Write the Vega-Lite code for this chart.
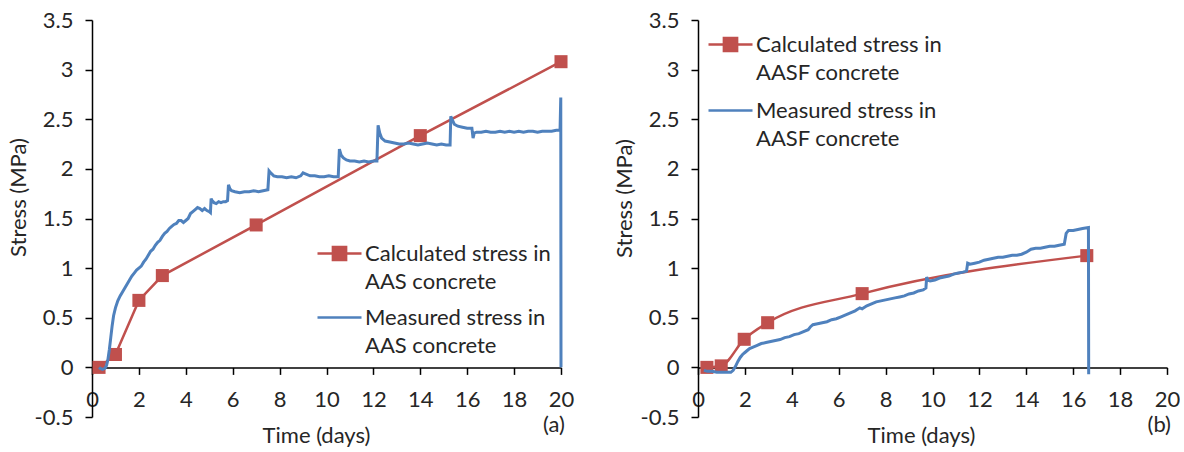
{
  "$schema": "https://vega.github.io/schema/vega-lite/v6.json",
  "background": "white",
  "padding": {"left": 7, "top": 9, "right": 0, "bottom": 0},
  "config": {
    "font": "Lato",
    "view": {"stroke": null},
    "axis": {
      "grid": false,
      "ticks": true,
      "domainColor": "#000000",
      "tickColor": "#000000",
      "tickOpacity": 1,
      "domainWidth": 1.5,
      "tickWidth": 1.5,
      "tickSize": 7,
      "labelFontSize": 22,
      "labelColor": "#262626",
      "titleFontSize": 22,
      "titleFontWeight": "normal",
      "titleColor": "#262626",
      "labelFlush": false,
      "labelOverlap": false,
      "labelBound": false
    },
    "legend": {
      "labelFontSize": 22,
      "labelColor": "#262626",
      "labelLimit": 500
    }
  },
  "datasets": {
    "aas_calc": [
      {"t": 0.3, "v": 0.0}, {"t": 1.0, "v": 0.13}, {"t": 2.0, "v": 0.675}, {"t": 3.0, "v": 0.925},
      {"t": 7.0, "v": 1.435}, {"t": 14.0, "v": 2.335}, {"t": 20.0, "v": 3.08}
    ],
    "aas_meas": [
      {"t": 0.3, "v": 0.0}, {"t": 0.35, "v": -0.01}, {"t": 0.45, "v": -0.02}, {"t": 0.55, "v": -0.01},
      {"t": 0.62, "v": 0.02}, {"t": 0.68, "v": 0.08}, {"t": 0.74, "v": 0.18}, {"t": 0.8, "v": 0.3},
      {"t": 0.86, "v": 0.42}, {"t": 0.92, "v": 0.52}, {"t": 1.0, "v": 0.6}, {"t": 1.1, "v": 0.67},
      {"t": 1.2, "v": 0.72}, {"t": 1.3, "v": 0.76}, {"t": 1.4, "v": 0.8}, {"t": 1.5, "v": 0.84},
      {"t": 1.6, "v": 0.88}, {"t": 1.7, "v": 0.92}, {"t": 1.8, "v": 0.95}, {"t": 1.9, "v": 0.98},
      {"t": 2.0, "v": 1.0}, {"t": 2.1, "v": 1.02}, {"t": 2.2, "v": 1.06}, {"t": 2.3, "v": 1.09},
      {"t": 2.4, "v": 1.13}, {"t": 2.5, "v": 1.17}, {"t": 2.6, "v": 1.19}, {"t": 2.7, "v": 1.23},
      {"t": 2.8, "v": 1.26}, {"t": 2.9, "v": 1.28}, {"t": 3.0, "v": 1.32}, {"t": 3.1, "v": 1.35},
      {"t": 3.2, "v": 1.37}, {"t": 3.3, "v": 1.4}, {"t": 3.4, "v": 1.42}, {"t": 3.5, "v": 1.44},
      {"t": 3.6, "v": 1.45}, {"t": 3.7, "v": 1.48}, {"t": 3.8, "v": 1.48}, {"t": 3.9, "v": 1.46},
      {"t": 4.0, "v": 1.48}, {"t": 4.1, "v": 1.5}, {"t": 4.2, "v": 1.55}, {"t": 4.3, "v": 1.57},
      {"t": 4.4, "v": 1.59}, {"t": 4.5, "v": 1.61}, {"t": 4.6, "v": 1.6}, {"t": 4.7, "v": 1.58},
      {"t": 4.8, "v": 1.6}, {"t": 4.9, "v": 1.58}, {"t": 5.0, "v": 1.57}, {"t": 5.05, "v": 1.56},
      {"t": 5.08, "v": 1.7}, {"t": 5.12, "v": 1.68}, {"t": 5.2, "v": 1.66}, {"t": 5.3, "v": 1.65},
      {"t": 5.4, "v": 1.67}, {"t": 5.5, "v": 1.66}, {"t": 5.6, "v": 1.67}, {"t": 5.7, "v": 1.67},
      {"t": 5.78, "v": 1.68}, {"t": 5.82, "v": 1.84}, {"t": 5.88, "v": 1.8}, {"t": 5.95, "v": 1.78},
      {"t": 6.1, "v": 1.77}, {"t": 6.3, "v": 1.76}, {"t": 6.5, "v": 1.77}, {"t": 6.7, "v": 1.77},
      {"t": 6.9, "v": 1.78}, {"t": 7.1, "v": 1.77}, {"t": 7.3, "v": 1.78}, {"t": 7.5, "v": 1.79},
      {"t": 7.55, "v": 1.98}, {"t": 7.62, "v": 1.96}, {"t": 7.75, "v": 1.93}, {"t": 7.9, "v": 1.92},
      {"t": 8.1, "v": 1.92}, {"t": 8.3, "v": 1.91}, {"t": 8.5, "v": 1.92}, {"t": 8.7, "v": 1.91},
      {"t": 8.9, "v": 1.93}, {"t": 9.0, "v": 1.96}, {"t": 9.1, "v": 1.95}, {"t": 9.3, "v": 1.93},
      {"t": 9.5, "v": 1.93}, {"t": 9.7, "v": 1.92}, {"t": 9.9, "v": 1.92}, {"t": 10.1, "v": 1.93},
      {"t": 10.3, "v": 1.92}, {"t": 10.5, "v": 1.92}, {"t": 10.55, "v": 2.2}, {"t": 10.62, "v": 2.14},
      {"t": 10.72, "v": 2.11}, {"t": 10.85, "v": 2.09}, {"t": 11.0, "v": 2.08}, {"t": 11.2, "v": 2.08},
      {"t": 11.4, "v": 2.07}, {"t": 11.6, "v": 2.08}, {"t": 11.8, "v": 2.07}, {"t": 12.0, "v": 2.08},
      {"t": 12.15, "v": 2.08}, {"t": 12.2, "v": 2.44}, {"t": 12.27, "v": 2.36}, {"t": 12.35, "v": 2.31},
      {"t": 12.5, "v": 2.28}, {"t": 12.7, "v": 2.27}, {"t": 12.9, "v": 2.26}, {"t": 13.1, "v": 2.25},
      {"t": 13.3, "v": 2.25}, {"t": 13.5, "v": 2.26}, {"t": 13.7, "v": 2.25}, {"t": 13.9, "v": 2.24},
      {"t": 14.1, "v": 2.25}, {"t": 14.3, "v": 2.26}, {"t": 14.5, "v": 2.25}, {"t": 14.7, "v": 2.24},
      {"t": 14.9, "v": 2.25}, {"t": 15.1, "v": 2.24}, {"t": 15.27, "v": 2.24}, {"t": 15.3, "v": 2.53},
      {"t": 15.37, "v": 2.49}, {"t": 15.45, "v": 2.45}, {"t": 15.6, "v": 2.43}, {"t": 15.8, "v": 2.42},
      {"t": 16.0, "v": 2.41}, {"t": 16.2, "v": 2.41}, {"t": 16.25, "v": 2.31}, {"t": 16.3, "v": 2.36},
      {"t": 16.4, "v": 2.37}, {"t": 16.6, "v": 2.37}, {"t": 16.8, "v": 2.38}, {"t": 17.0, "v": 2.37},
      {"t": 17.2, "v": 2.37}, {"t": 17.4, "v": 2.38}, {"t": 17.6, "v": 2.37}, {"t": 17.8, "v": 2.38},
      {"t": 18.0, "v": 2.37}, {"t": 18.2, "v": 2.38}, {"t": 18.4, "v": 2.37}, {"t": 18.6, "v": 2.38},
      {"t": 18.8, "v": 2.38}, {"t": 19.0, "v": 2.37}, {"t": 19.2, "v": 2.38}, {"t": 19.4, "v": 2.38},
      {"t": 19.6, "v": 2.38}, {"t": 19.8, "v": 2.39}, {"t": 19.96, "v": 2.39}, {"t": 19.99, "v": 2.72},
      {"t": 20.0, "v": 0.0}
    ],
    "aasf_calc": [
      {"t": 0.38, "v": 0.0}, {"t": 0.99, "v": 0.015}, {"t": 1.97, "v": 0.283}, {"t": 2.97, "v": 0.45},
      {"t": 7.0, "v": 0.743}, {"t": 16.58, "v": 1.126}
    ],
    "aasf_meas": [
      {"t": 0.25, "v": -0.03}, {"t": 0.4, "v": -0.04}, {"t": 0.6, "v": -0.04}, {"t": 0.8, "v": -0.05},
      {"t": 1.0, "v": -0.05}, {"t": 1.2, "v": -0.05}, {"t": 1.4, "v": -0.05}, {"t": 1.5, "v": -0.03},
      {"t": 1.6, "v": 0.01}, {"t": 1.7, "v": 0.06}, {"t": 1.8, "v": 0.1}, {"t": 1.9, "v": 0.13},
      {"t": 2.0, "v": 0.15}, {"t": 2.1, "v": 0.17}, {"t": 2.2, "v": 0.19}, {"t": 2.3, "v": 0.2},
      {"t": 2.5, "v": 0.22}, {"t": 2.7, "v": 0.24}, {"t": 2.9, "v": 0.25}, {"t": 3.1, "v": 0.26},
      {"t": 3.3, "v": 0.27}, {"t": 3.5, "v": 0.28}, {"t": 3.7, "v": 0.3}, {"t": 3.9, "v": 0.31},
      {"t": 4.1, "v": 0.33}, {"t": 4.3, "v": 0.34}, {"t": 4.5, "v": 0.36}, {"t": 4.7, "v": 0.38},
      {"t": 4.8, "v": 0.41}, {"t": 4.9, "v": 0.43}, {"t": 5.1, "v": 0.44}, {"t": 5.3, "v": 0.45},
      {"t": 5.5, "v": 0.46}, {"t": 5.7, "v": 0.48}, {"t": 5.9, "v": 0.49}, {"t": 6.1, "v": 0.51},
      {"t": 6.3, "v": 0.53}, {"t": 6.5, "v": 0.55}, {"t": 6.7, "v": 0.57}, {"t": 6.9, "v": 0.6},
      {"t": 7.0, "v": 0.59}, {"t": 7.2, "v": 0.62}, {"t": 7.4, "v": 0.64}, {"t": 7.6, "v": 0.66},
      {"t": 7.8, "v": 0.67}, {"t": 8.0, "v": 0.68}, {"t": 8.2, "v": 0.69}, {"t": 8.4, "v": 0.7},
      {"t": 8.6, "v": 0.71}, {"t": 8.8, "v": 0.72}, {"t": 9.0, "v": 0.74}, {"t": 9.2, "v": 0.75},
      {"t": 9.4, "v": 0.77}, {"t": 9.6, "v": 0.78}, {"t": 9.72, "v": 0.8}, {"t": 9.75, "v": 0.91},
      {"t": 9.8, "v": 0.88}, {"t": 9.9, "v": 0.87}, {"t": 10.1, "v": 0.88}, {"t": 10.3, "v": 0.9},
      {"t": 10.5, "v": 0.91}, {"t": 10.7, "v": 0.92}, {"t": 10.9, "v": 0.94}, {"t": 11.1, "v": 0.95},
      {"t": 11.3, "v": 0.96}, {"t": 11.45, "v": 0.97}, {"t": 11.5, "v": 1.05}, {"t": 11.6, "v": 1.04},
      {"t": 11.8, "v": 1.05}, {"t": 12.0, "v": 1.06}, {"t": 12.2, "v": 1.08}, {"t": 12.4, "v": 1.09},
      {"t": 12.6, "v": 1.1}, {"t": 12.8, "v": 1.11}, {"t": 13.0, "v": 1.11}, {"t": 13.2, "v": 1.12},
      {"t": 13.4, "v": 1.13}, {"t": 13.6, "v": 1.13}, {"t": 13.8, "v": 1.14}, {"t": 14.0, "v": 1.16},
      {"t": 14.2, "v": 1.19}, {"t": 14.4, "v": 1.2}, {"t": 14.6, "v": 1.2}, {"t": 14.8, "v": 1.21},
      {"t": 15.0, "v": 1.22}, {"t": 15.2, "v": 1.22}, {"t": 15.4, "v": 1.23}, {"t": 15.62, "v": 1.24},
      {"t": 15.7, "v": 1.35}, {"t": 15.8, "v": 1.38}, {"t": 16.0, "v": 1.38}, {"t": 16.2, "v": 1.39},
      {"t": 16.4, "v": 1.4}, {"t": 16.65, "v": 1.41}, {"t": 16.66, "v": -0.07}
    ]
  },
  "spacing": 39,
  "resolve": {"scale": {"color": "independent"}, "legend": {"color": "independent"}},
  "hconcat": [
    {
      "width": 469,
      "height": 397,
      "layer": [
        {
          "data": {"name": "aas_calc"},
          "mark": {"type": "line", "strokeWidth": 2.5},
          "encoding": {
            "x": {"field": "t", "type": "quantitative", "scale": {"domain": [0, 20], "nice": false, "zero": false},
              "axis": {"values": [0,1,2,3,4,5,6,7,8,9,10,11,12,13,14,15,16,17,18,19,20],
                "ticks": true, "tickSize": 7, "tickColor": "#000000", "tickWidth": 1.5,
                "labelExpr": "datum.value % 2 === 0 ? datum.label : ''", "offset": -49.6,
                "labelPadding": 15, "title": "Time (days)", "titleX": 224, "titlePadding": 15}},
            "y": {"field": "v", "type": "quantitative", "scale": {"domain": [-0.5, 3.5], "nice": false, "zero": false},
              "axis": {"values": [-0.5,0,0.5,1,1.5,2,2.5,3,3.5], "labelExpr": "datum.value + ''",
                "ticks": true, "tickSize": 7, "tickColor": "#000000", "tickWidth": 1.5,
                "labelPadding": 12, "title": "Stress (MPa)", "titleY": 177, "titlePadding": 4}},
            "color": {"datum": "Calculated stress in AAS concrete",
              "scale": {"domain": ["Calculated stress in AAS concrete", "Measured stress in AAS concrete"], "range": ["#C0504D", "#4F81BD"]},
              "legend": {"title": null, "orient": "none", "legendX": 224, "legendY": 210,
                "symbolSize": 1936, "symbolStrokeWidth": 2.5, "labelOffset": 2, "rowPadding": 1,
                "labelExpr": "[slice(datum.label, 0, indexof(datum.label, ' in ') + 3), slice(datum.label, indexof(datum.label, ' in ') + 4)]",
                "encode": {
                  "labels": {"update": {"lineHeight": {"value": 28}}},
                  "symbols": {"update": {
                    "shape": {"signal": "indexof(datum.label, 'Calculated') >= 0 ? 'M-1,0H1M-0.3,-0.3H0.3V0.3H-0.3Z' : 'M-1,0H1'"},
                    "fill": {"signal": "indexof(datum.label, 'Calculated') >= 0 ? '#C0504D' : '#4F81BD'"},
                    "stroke": {"signal": "indexof(datum.label, 'Calculated') >= 0 ? '#C0504D' : '#4F81BD'"},
                    "opacity": {"value": 1}
                  }}
                }}}
          }
        },
        {
          "data": {"name": "aas_calc"},
          "mark": {"type": "point", "shape": "square", "filled": true, "size": 170, "opacity": 1},
          "encoding": {
            "x": {"field": "t", "type": "quantitative"},
            "y": {"field": "v", "type": "quantitative"},
            "color": {"datum": "Calculated stress in AAS concrete"}
          }
        },
        {
          "data": {"name": "aas_meas"},
          "mark": {"type": "line", "strokeWidth": 3},
          "encoding": {
            "x": {"field": "t", "type": "quantitative"},
            "y": {"field": "v", "type": "quantitative"},
            "color": {"datum": "Measured stress in AAS concrete"}
          }
        },
        {
          "data": {"values": [{}]},
          "mark": {"type": "text", "fontSize": 22, "align": "right", "baseline": "middle", "dx": 4, "dy": 8, "color": "#262626"},
          "encoding": {
            "x": {"datum": 20, "type": "quantitative"},
            "y": {"datum": -0.5, "type": "quantitative"},
            "text": {"value": "(a)"}
          }
        }
      ]
    },
    {
      "width": 469,
      "height": 397,
      "layer": [
        {
          "data": {"name": "aasf_calc"},
          "mark": {"type": "line", "interpolate": "monotone", "strokeWidth": 2.5},
          "encoding": {
            "x": {"field": "t", "type": "quantitative", "scale": {"domain": [0, 20], "nice": false, "zero": false},
              "axis": {"values": [0,1,2,3,4,5,6,7,8,9,10,11,12,13,14,15,16,17,18,19,20],
                "ticks": true, "tickSize": 7, "tickColor": "#000000", "tickWidth": 1.5,
                "labelExpr": "datum.value % 2 === 0 ? datum.label : ''", "offset": -49.6,
                "labelPadding": 15, "title": "Time (days)", "titleX": 223, "titlePadding": 15}},
            "y": {"field": "v", "type": "quantitative", "scale": {"domain": [-0.5, 3.5], "nice": false, "zero": false},
              "axis": {"values": [-0.5,0,0.5,1,1.5,2,2.5,3,3.5], "labelExpr": "datum.value + ''",
                "ticks": true, "tickSize": 7, "tickColor": "#000000", "tickWidth": 1.5,
                "labelPadding": 12, "title": "Stress (MPa)", "titleY": 178, "titlePadding": 4}},
            "color": {"datum": "Calculated stress in AASF concrete",
              "scale": {"domain": ["Calculated stress in AASF concrete", "Measured stress in AASF concrete"], "range": ["#C0504D", "#4F81BD"]},
              "legend": {"title": null, "orient": "none", "legendX": 9, "legendY": 1,
                "symbolSize": 1936, "symbolStrokeWidth": 2.5, "labelOffset": 2, "rowPadding": 3,
                "labelExpr": "[slice(datum.label, 0, indexof(datum.label, ' in ') + 3), slice(datum.label, indexof(datum.label, ' in ') + 4)]",
                "encode": {
                  "labels": {"update": {"lineHeight": {"value": 28}}},
                  "symbols": {"update": {
                    "shape": {"signal": "indexof(datum.label, 'Calculated') >= 0 ? 'M-1,0H1M-0.3,-0.3H0.3V0.3H-0.3Z' : 'M-1,0H1'"},
                    "fill": {"signal": "indexof(datum.label, 'Calculated') >= 0 ? '#C0504D' : '#4F81BD'"},
                    "stroke": {"signal": "indexof(datum.label, 'Calculated') >= 0 ? '#C0504D' : '#4F81BD'"},
                    "opacity": {"value": 1}
                  }}
                }}}
          }
        },
        {
          "data": {"name": "aasf_calc"},
          "mark": {"type": "point", "shape": "square", "filled": true, "size": 170, "opacity": 1},
          "encoding": {
            "x": {"field": "t", "type": "quantitative"},
            "y": {"field": "v", "type": "quantitative"},
            "color": {"datum": "Calculated stress in AASF concrete"}
          }
        },
        {
          "data": {"name": "aasf_meas"},
          "mark": {"type": "line", "strokeWidth": 3},
          "encoding": {
            "x": {"field": "t", "type": "quantitative"},
            "y": {"field": "v", "type": "quantitative"},
            "color": {"datum": "Measured stress in AASF concrete"}
          }
        },
        {
          "data": {"values": [{}]},
          "mark": {"type": "text", "fontSize": 22, "align": "right", "baseline": "middle", "dx": 4, "dy": 8, "color": "#262626"},
          "encoding": {
            "x": {"datum": 20, "type": "quantitative"},
            "y": {"datum": -0.5, "type": "quantitative"},
            "text": {"value": "(b)"}
          }
        }
      ]
    }
  ]
}
